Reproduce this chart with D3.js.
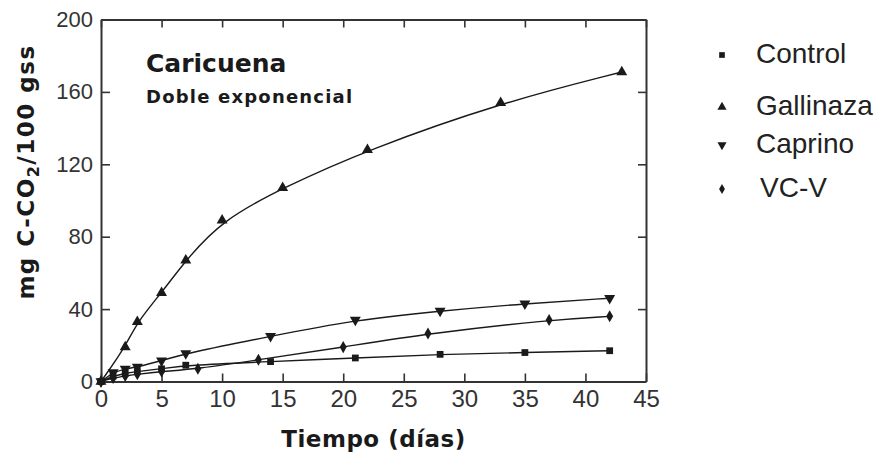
<!DOCTYPE html>
<html>
<head>
<meta charset="utf-8">
<script src="https://cdn.jsdelivr.net/npm/d3@7"></script>
<style>
  body { margin: 0; background: white; }
  svg { display: block; }
</style>
</head>
<body>
<div id="chart"></div>
<script>
// data (mg C-CO2 / 100 gss vs days)
const seriesNames = ["Control", "Gallinaza", "Caprino", "VC-V"];

const controlDays = [0, 1, 2, 3, 5, 7, 14, 21, 28, 35, 42];
const controlCO2 = [0, 3, 4.5, 5.5, 7, 9, 11, 13, 15, 16, 17];

const gallinazaDays = [0, 2, 3, 5, 7, 10, 15, 22, 33, 43];
const gallinazaCO2 = [0, 19, 33, 49, 67, 89, 107, 128, 154, 171];

const caprinoDays = [0, 1, 2, 3, 5, 7, 14, 21, 28, 35, 42];
const caprinoCO2 = [0, 5, 7, 8, 11.5, 15.5, 25, 34, 39, 43, 46];

const vcvDays = [0, 1, 2, 3, 5, 8, 13, 20, 27, 37, 42];
const vcvCO2 = [0, 2, 3, 4, 5.5, 7, 12, 19, 26.5, 34, 36];

const xTicks = [0, 5, 10, 15, 20, 25, 30, 35, 40, 45];
const yTicks = [0, 40, 80, 120, 160, 200];

const width = 881;
const height = 458;
const margin = { top: 19.5, right: 235, bottom: 76.5, left: 101 };

const svg = d3
  .select("#chart")
  .append("svg")
  .attr("width", width)
  .attr("height", height)
  .attr("viewBox", [0, 0, width, height]);

const x = d3
  .scaleLinear()
  .domain([0, 45])
  .range([margin.left, width - margin.right]);

const y = d3
  .scaleLinear()
  .domain([0, 200])
  .range([height - margin.bottom, margin.top]);

const ink = "#1a1a1a";

function styleAxis(g) {
  g.select(".domain").attr("stroke", "#333").attr("stroke-width", 2);
  g.selectAll(".tick line").attr("stroke", "#333").attr("stroke-width", 1.6);
  g.selectAll(".tick text")
    .attr("fill", "#333")
    .style("font-family", "'Liberation Sans', Arial, sans-serif");
}

// bottom axis with labels
svg
  .append("g")
  .attr("transform", `translate(0, ${y(0)})`)
  .call(d3.axisBottom(x).tickValues(xTicks).tickSizeInner(-8).tickSizeOuter(0).tickPadding(8))
  .call(styleAxis)
  .call((g) => g.selectAll(".tick text").style("font-size", "24px"));

// left axis with labels
svg
  .append("g")
  .attr("transform", `translate(${x(0)}, 0)`)
  .call(d3.axisLeft(y).tickValues(yTicks).tickSizeInner(-9).tickSizeOuter(0).tickPadding(8))
  .call(styleAxis)
  .call((g) => g.selectAll(".tick text").style("font-size", "22px"));

// top and right: ticks only
svg
  .append("g")
  .attr("transform", `translate(0, ${y(200)})`)
  .call(d3.axisTop(x).tickValues(xTicks).tickSizeInner(-8).tickSizeOuter(0).tickFormat(""))
  .call(styleAxis);

svg
  .append("g")
  .attr("transform", `translate(${x(45)}, 0)`)
  .call(d3.axisRight(y).tickValues(yTicks).tickSizeInner(-8).tickSizeOuter(0).tickFormat(""))
  .call(styleAxis);

const series = [
  { name: seriesNames[0], days: controlDays, vals: controlCO2, sym: d3.symbolSquare, size: 46, rot: 0 },
  { name: seriesNames[1], days: gallinazaDays, vals: gallinazaCO2, sym: d3.symbolTriangle, size: 52, rot: 0 },
  { name: seriesNames[2], days: caprinoDays, vals: caprinoCO2, sym: d3.symbolTriangle, size: 52, rot: 180 },
  { name: seriesNames[3], days: vcvDays, vals: vcvCO2, sym: d3.symbolDiamond, size: 42, rot: 0 },
];

// smooth fitted-looking curve through the observations
const line = d3
  .line()
  .x((d) => x(d[0]))
  .y((d) => y(d[1]))
  .curve(d3.curveBasis);

series.forEach((s) => {
  const pts = s.days.map((d, i) => [d, s.vals[i]]);

  svg
    .append("path")
    .datum(pts)
    .attr("fill", "none")
    .attr("stroke", ink)
    .attr("stroke-width", 1.4)
    .attr("d", line);

  svg
    .append("g")
    .selectAll("path")
    .data(pts)
    .join("path")
    .attr("d", d3.symbol(s.sym, s.size))
    .attr("transform", (d) => `translate(${x(d[0])}, ${y(d[1])}) rotate(${s.rot})`)
    .attr("fill", ink);
});

// annotation in the plot
svg
  .append("text")
  .attr("x", 146)
  .attr("y", 72)
  .style("font-family", "'DejaVu Sans', sans-serif")
  .style("font-weight", "bold")
  .style("font-size", "25px")
  .attr("fill", ink)
  .text("Caricuena");

svg
  .append("text")
  .attr("x", 146)
  .attr("y", 103)
  .style("font-family", "'DejaVu Sans', sans-serif")
  .style("font-weight", "bold")
  .style("font-size", "18px")
  .style("letter-spacing", "1.2px")
  .attr("fill", ink)
  .text("Doble exponencial");

// axis titles
svg
  .append("text")
  .attr("x", (x(0) + x(45)) / 2)
  .attr("y", 447)
  .attr("text-anchor", "middle")
  .style("font-family", "'DejaVu Sans', sans-serif")
  .style("font-weight", "bold")
  .style("font-size", "23px")
  .style("letter-spacing", "0.5px")
  .attr("fill", ink)
  .text("Tiempo (días)");

const yTitle = svg
  .append("text")
  .attr("transform", "translate(34, 172) rotate(-90)")
  .attr("text-anchor", "middle")
  .style("font-family", "'DejaVu Sans', sans-serif")
  .style("font-weight", "bold")
  .style("font-size", "23px")
  .style("letter-spacing", "1.5px")
  .attr("fill", ink);
yTitle.append("tspan").text("mg C-CO");
yTitle.append("tspan").attr("dy", 5).style("font-size", "16px").text("2");
yTitle.append("tspan").attr("dy", -5).text("/100 gss");

// legend
const legendX = 722;
const legendRows = [63, 115, 153, 197];
const legend = svg
  .append("g")
  .selectAll("g")
  .data(series)
  .join("g")
  .attr("transform", (d, i) => `translate(0, ${legendRows[i]})`);

legend
  .append("path")
  .attr("d", (d) => d3.symbol(d.sym, d.size * 0.7)())
  .attr("transform", (d) => `translate(${legendX}, -8) rotate(${d.rot})`)
  .attr("fill", ink);

legend
  .append("text")
  .attr("x", (d, i) => (i === 3 ? 760 : 756))
  .style("font-family", "'Liberation Sans', Arial, sans-serif")
  .style("font-size", "28px")
  .attr("fill", "#222")
  .text((d) => d.name);
</script>
</body>
</html>
